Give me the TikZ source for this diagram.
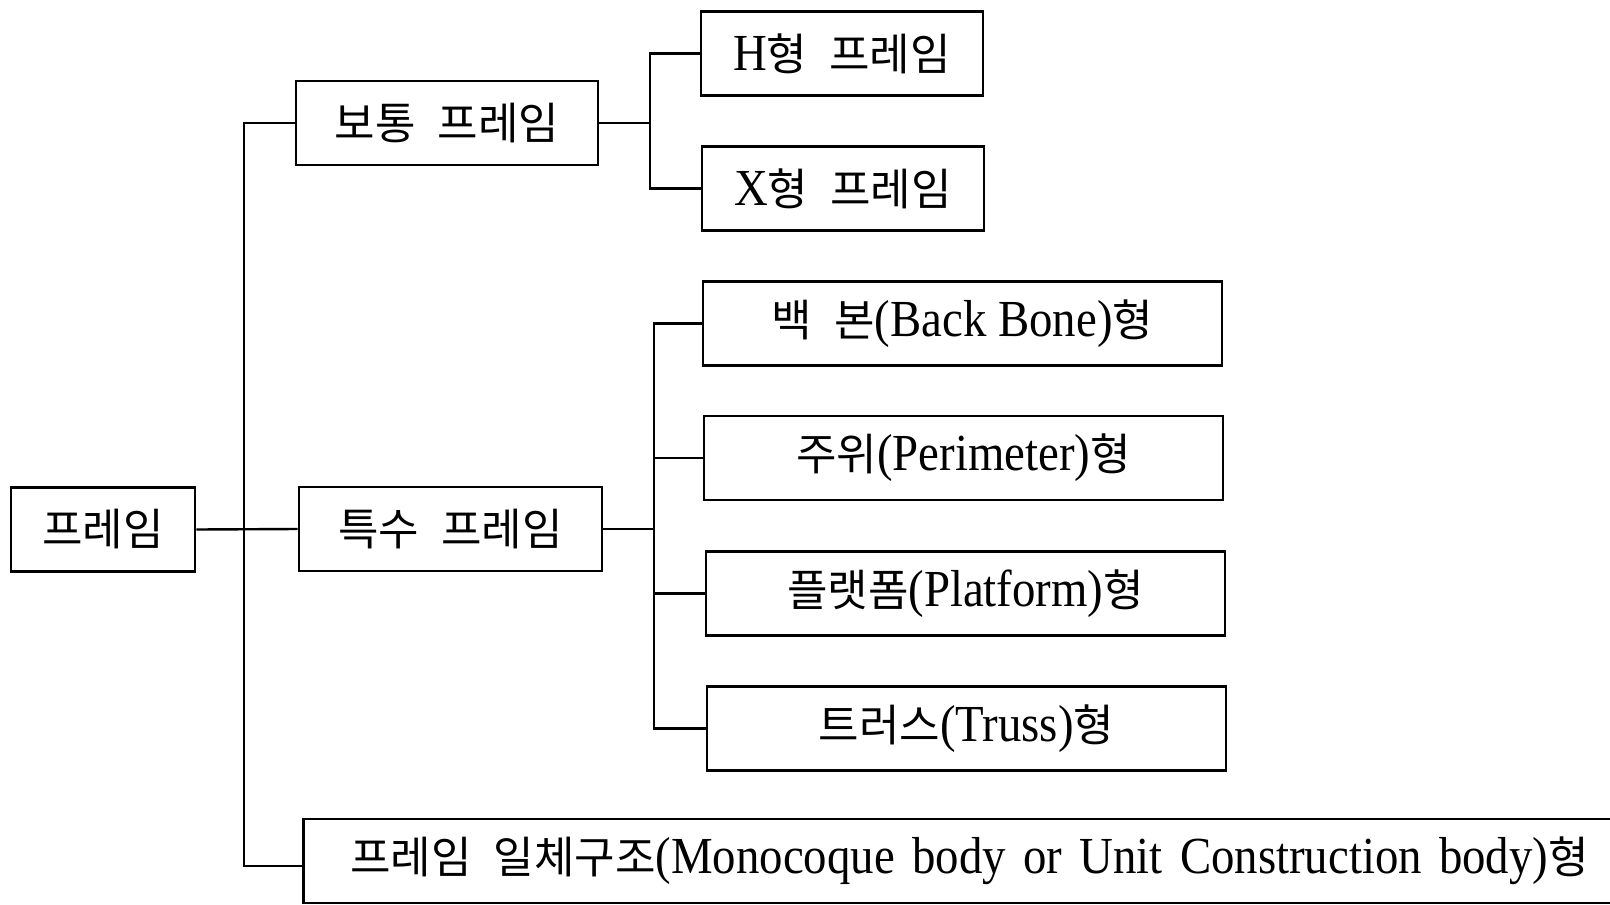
\documentclass[tikz,border=0pt]{standalone}
\usepackage{fontspec}
\setmainfont[FakeStretch=0.9]{Liberation Serif}
\newfontfamily\kr{Noto Sans CJK KR}
\newcommand\K[1]{{\kr\fontsize{44}{50}\selectfont #1}}
\newcommand\ks{\hspace{22pt}}
\begin{document}
\begin{tikzpicture}[x=1pt,y=-1pt,
  box/.style={draw, line width=2.8pt, minimum height=84pt, inner sep=0pt, font=\fontsize{52}{56}\selectfont},
  conn/.style={line width=2.4pt}]
\useasboundingbox (0,0) rectangle (1610,905);
\clip (0,0) rectangle (1610,905);
\node[box, minimum width=184pt] (frame) at (103,529.5) {\K{프레임}};
\node[box, minimum width=302pt] (bot) at (447,123) {\K{보통\ks 프레임}};
\node[box, minimum width=282pt] (H) at (842,53.5) {H\K{형\ks 프레임}};
\node[box, minimum width=282pt] (X) at (843,188.5) {X\K{형\ks 프레임}};
\node[box, minimum width=303pt] (teuk) at (450.5,529) {\K{특수\ks 프레임}};
\node[box, minimum width=519pt] (bb) at (962.5,323.5) {\K{백\ks 본}(Back Bone)\K{형}};
\node[box, minimum width=519pt] (per) at (963.5,458) {\K{주위}(Perimeter)\K{형}};
\node[box, minimum width=519pt] (plat) at (965.5,593.5) {\K{플랫폼}(Platform)\K{형}};
\node[box, minimum width=519pt] (truss) at (966.5,728.5) {\K{트러스}(Truss)\K{형}};
\node[box, minimum width=1400pt, inner xsep=47pt, text width=1306pt, align=left, anchor=west] (mono) at (302,861) {\K{프레임\ks 일체구조}(Monocoque body or Unit Construction body)\K{형}};
% trunk
\coordinate (trA) at (244,123);
\coordinate (trB) at (244,866);
\draw[conn] (frame.east) -- (teuk.west);
\draw[conn] (bot.west) -- (trA) -- (trB) -- (trB -| mono.west);
% upper branch
\coordinate (bA) at (650,53.5);
\coordinate (bB) at (650,188.5);
\draw[conn] (bot.east) -- (bot.east -| bA);
\draw[conn] (H.west) -- (bA) -- (bB) -- (X.west);
% lower branch
\coordinate (cA) at (654,323.5);
\coordinate (cB) at (654,728.5);
\draw[conn] (teuk.east) -- (teuk.east -| cA);
\draw[conn] (bb.west) -- (cA) -- (cB) -- (truss.west);
\draw[conn] (per.west) -- (per.west -| cA);
\draw[conn] (plat.west) -- (plat.west -| cA);
\end{tikzpicture}
\end{document}
